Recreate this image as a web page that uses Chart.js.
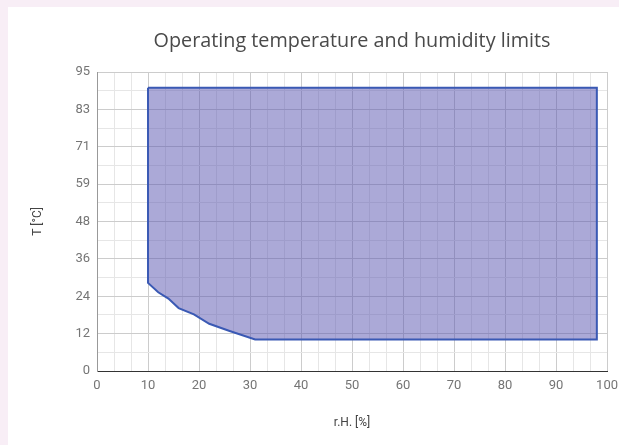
<!DOCTYPE html>
<html>
<head>
<meta charset="utf-8">
<script src="https://cdn.jsdelivr.net/npm/chart.js@4"></script>
<style>
  html, body { margin: 0; padding: 0; background: #f8eef6; overflow: hidden; }
  .card { position: absolute; left: 8px; top: 7px; width: 611px; height: 438px; background: #fff; overflow: hidden; }
  canvas { display: block; }
</style>
</head>
<body>
<div class="card"><canvas id="limitsChart" width="617" height="438"></canvas></div>
<script>
// relative humidity (%) and temperature (°C) corners of the allowed region
const rhValues = [10, 98, 98, 31, 26, 22, 19, 16, 14, 12, 10, 10];
const tempValues = [90, 90, 10, 10, 12.7, 15, 18, 20, 23, 25, 28, 90];

const xTickLabels = ["0", "10", "20", "30", "40", "50", "60", "70", "80", "90", "100"];
const yTickLabels = ["0", "12", "24", "36", "48", "59", "71", "83", "95"];
const yMax = 95;

const points = rhValues.map((x, i) => ({ x: x, y: tempValues[i] }));

// draws the title centred over the plot area, not the whole canvas
const areaTitle = {
    id: "areaTitle",
    afterDraw(chart) {
        const ctx = chart.ctx;
        const area = chart.chartArea;
        ctx.save();
        ctx.font = "19.8px 'Open Sans'";
        ctx.fillStyle = "#4a4a4a";
        ctx.textAlign = "center";
        ctx.textBaseline = "middle";
        ctx.fillText("Operating temperature and humidity limits", (area.left + area.right) / 2, 34);
        ctx.restore();
    }
};

new Chart(document.getElementById("limitsChart"), {
    type: "scatter",
    data: {
        datasets: [{
            data: points,
            showLine: true,
            fill: "shape",
            backgroundColor: "rgba(88, 84, 176, 0.5)",
            borderColor: "#3a59b4",
            borderWidth: 2,
            pointRadius: 0,
            tension: 0,
        }],
    },
    options: {
        responsive: false,
        animation: false,
        layout: { padding: { top: 65, right: 0, bottom: 11, left: 19 } },
        plugins: { legend: { display: false }, tooltip: { enabled: false } },
        scales: {
            x: {
                type: "linear",
                min: 0,
                max: 100,
                afterBuildTicks: (scale) => {
                    scale.ticks = [];
                    for (let k = 0; k <= 30; k++) scale.ticks.push({ value: k * 10 / 3 });
                },
                ticks: {
                    autoSkip: false,
                    maxRotation: 0,
                    padding: 7,
                    color: "#757575",
                    font: { family: "Roboto", size: 13 },
                    callback: (v, i) => (i % 3 === 0 ? xTickLabels[i / 3] : ""),
                },
                grid: {
                    drawTicks: false,
                    color: (c) => (c.index % 3 === 0 ? "#cccccc" : "#e6e6e6"),
                },
                border: { color: "#333", width: 1 },
                title: {
                    display: true,
                    text: "r.H. [%]",
                    color: "#444",
                    font: { family: "Roboto", size: 12 },
                    padding: { top: 15 },
                },
            },
            y: {
                type: "linear",
                min: 0,
                max: yMax,
                afterBuildTicks: (scale) => {
                    scale.ticks = [];
                    for (let k = 0; k <= 16; k++) scale.ticks.push({ value: k * yMax / 16 });
                },
                ticks: {
                    autoSkip: false,
                    padding: 7,
                    color: "#757575",
                    font: { family: "Roboto", size: 13 },
                    callback: (v, i) => (i % 2 === 0 ? yTickLabels[i / 2] : ""),
                },
                grid: {
                    drawTicks: false,
                    color: (c) => (c.index % 2 === 0 ? "#cccccc" : "#e6e6e6"),
                },
                border: { color: "#999", width: 1 },
                title: {
                    display: true,
                    text: "T [°C]",
                    color: "#444",
                    font: { family: "Roboto", size: 12 },
                    padding: { bottom: 23 },
                },
            },
        },
    },
    plugins: [areaTitle],
});
</script>
</body>
</html>
